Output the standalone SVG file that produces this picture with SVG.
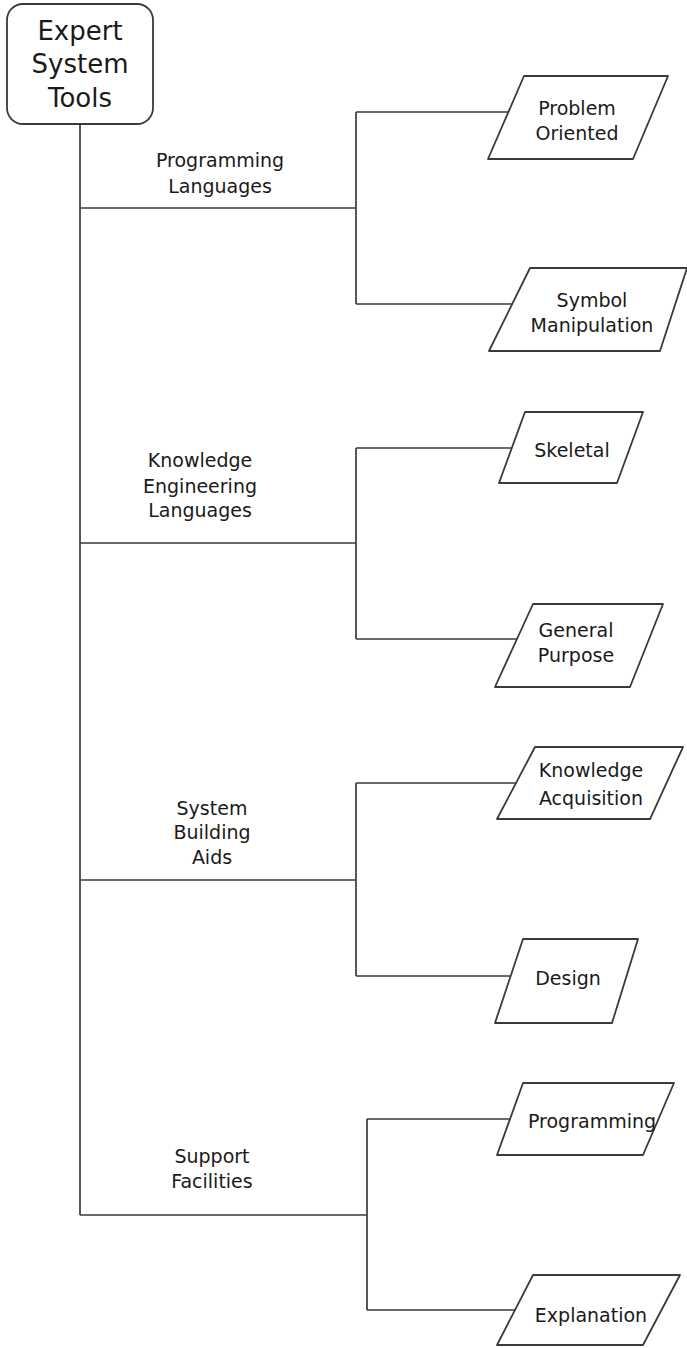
<svg xmlns="http://www.w3.org/2000/svg" width="687" height="1348" viewBox="0 0 687 1348">
  <style>
    .bg { fill: #ffffff; }
    .wire { fill: none; stroke: #3a3a3a; stroke-width: 1.7; }
    .box { fill: #ffffff; stroke: #3a3a3a; stroke-width: 1.8; stroke-linejoin: round; }
    .t { font-family: "Comic Sans MS", "DejaVu Sans", "Liberation Sans", sans-serif; font-size: 19px; fill: #1a1a1a; text-anchor: middle; }
    .root { font-size: 26px; }
  </style>

  <rect class="bg" x="0" y="0" width="687" height="1348"/>

  <!-- tree connectors -->
  <g id="connectors">
    <path class="wire" d="M80,124 V1215"/>
    <!-- programming languages -->
    <path class="wire" d="M80,208 H356 M356,112 V304 M356,112 H508.4 M356,304 H512.2"/>
    <!-- knowledge engineering languages -->
    <path class="wire" d="M80,543 H356 M356,448 V639 M356,448 H511.8 M356,639 H517"/>
    <!-- system building aids -->
    <path class="wire" d="M80,880 H356 M356,783 V976 M356,783 H516 M356,976 H510.7"/>
    <!-- support facilities -->
    <path class="wire" d="M80,1215 H367 M367,1119 V1310 M367,1119 H510 M367,1310 H515"/>
  </g>

  <g id="root">
    <rect class="box" x="7" y="4" width="146" height="120" rx="16" ry="16"/>
    <text class="t root" x="80" y="40">Expert</text>
    <text class="t root" x="80" y="73">System</text>
    <text class="t root" x="80" y="107">Tools</text>
  </g>

  <!-- branch labels -->
  <g id="label-programming-languages">
    <text class="t" x="220" y="167">Programming</text>
    <text class="t" x="220" y="193">Languages</text>
  </g>
  <g id="label-knowledge-engineering-languages">
    <text class="t" x="200" y="467">Knowledge</text>
    <text class="t" x="200" y="493">Engineering</text>
    <text class="t" x="200" y="517">Languages</text>
  </g>
  <g id="label-system-building-aids">
    <text class="t" x="212" y="815">System</text>
    <text class="t" x="212" y="839">Building</text>
    <text class="t" x="212" y="864">Aids</text>
  </g>
  <g id="label-support-facilities">
    <text class="t" x="212" y="1163">Support</text>
    <text class="t" x="212" y="1188">Facilities</text>
  </g>

  <!-- leaf nodes -->
  <g id="problem-oriented">
    <polygon class="box" points="524,76 668,76 633,159 488,159"/>
    <text class="t" x="577" y="115">Problem</text>
    <text class="t" x="577" y="140">Oriented</text>
  </g>
  <g id="symbol-manipulation">
    <polygon class="box" points="530,268 687,268 660,351 489,351"/>
    <text class="t" x="592" y="307">Symbol</text>
    <text class="t" x="592" y="332">Manipulation</text>
  </g>
  <g id="skeletal">
    <polygon class="box" points="525,412 643,412 617,483 499,483"/>
    <text class="t" x="572" y="457">Skeletal</text>
  </g>
  <g id="general-purpose">
    <polygon class="box" points="533,604 663,604 630,687 495,687"/>
    <text class="t" x="576" y="637">General</text>
    <text class="t" x="576" y="662">Purpose</text>
  </g>
  <g id="knowledge-acquisition">
    <polygon class="box" points="535,747 683,747 650,819 497,819"/>
    <text class="t" x="591" y="777">Knowledge</text>
    <text class="t" x="591" y="805">Acquisition</text>
  </g>
  <g id="design">
    <polygon class="box" points="523,939 638,939 612,1023 495,1023"/>
    <text class="t" x="568" y="985">Design</text>
  </g>
  <g id="programming">
    <polygon class="box" points="523,1083 674,1083 643,1155 497,1155"/>
    <text class="t" x="592" y="1128">Programming</text>
  </g>
  <g id="explanation">
    <polygon class="box" points="533,1275 680,1275 643,1345 497,1345"/>
    <text class="t" x="591" y="1322">Explanation</text>
  </g>
</svg>
